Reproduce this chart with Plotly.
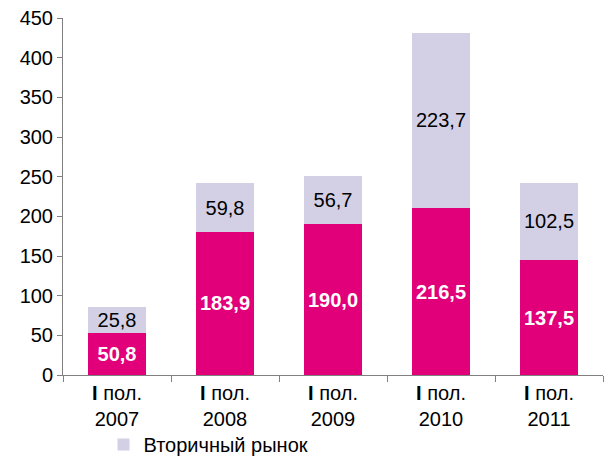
import plotly.graph_objects as go

# Categories and values
periods = ["<b>I</b> пол.<br>2007", "<b>I</b> пол.<br>2008", "<b>I</b> пол.<br>2009",
           "<b>I</b> пол.<br>2010", "<b>I</b> пол.<br>2011"]
primary = [53.0, 180.5, 190.0, 210.5, 144.5]      # bar heights as drawn
secondary = [33.0, 61.0, 61.0, 221.0, 98.0]
primary_labels = ["50,8", "183,9", "190,0", "216,5", "137,5"]
secondary_labels = ["25,8", "59,8", "56,7", "223,7", "102,5"]
y_ticks = [0, 50, 100, 150, 200, 250, 300, 350, 400, 450]

MAGENTA = "#E2007A"
LAVENDER = "#D3D0E6"
FONT = "Liberation Sans, Arial, sans-serif"

fig = go.Figure()
fig.add_trace(go.Bar(
    x=periods, y=primary, name="Первичный рынок",
    marker_color=MAGENTA, marker_line_width=0,
    text=primary_labels, textposition="inside", insidetextanchor="middle",
    textangle=0, constraintext="none",
    textfont=dict(family=FONT, size=20, color="white", weight="bold"),
    showlegend=False,
))
fig.add_trace(go.Bar(
    x=periods, y=secondary, name="Вторичный рынок",
    marker_color=LAVENDER, marker_line_width=0,
    text=secondary_labels, textposition="inside", insidetextanchor="middle",
    textangle=0, constraintext="none",
    textfont=dict(family=FONT, size=20, color="black"),
))

fig.update_layout(
    barmode="stack",
    bargap=0.47,
    width=615, height=457,
    margin=dict(l=63, r=12, t=18, b=82, autoexpand=False),
    paper_bgcolor="white", plot_bgcolor="white",
    font=dict(family=FONT, size=20, color="black"),
    uniformtext=dict(mode=False),
    legend=dict(x=0.075, y=-0.195, xanchor="left", yanchor="middle",
                font=dict(size=20), bgcolor="rgba(0,0,0,0)"),
)
fig.update_yaxes(range=[0, 450], tickvals=y_ticks, showgrid=False,
                 showline=True, linecolor="#808080", linewidth=1,
                 ticks="outside", ticklen=5, tickcolor="#808080",
                 zeroline=False, tickfont=dict(size=20), automargin=False)
fig.update_xaxes(showline=True, linecolor="#808080", linewidth=1,
                 ticks="outside", tickson="boundaries", ticklen=6,
                 tickcolor="#808080", tickfont=dict(size=20), showgrid=False,
                 automargin=False)

# page body has a default 8px margin; drop it so the figure fills the window
fig.write_html("out.html",
               config={"displayModeBar": False},
               post_script="document.body.style.margin='0';"
                           "document.body.style.overflow='hidden';")
